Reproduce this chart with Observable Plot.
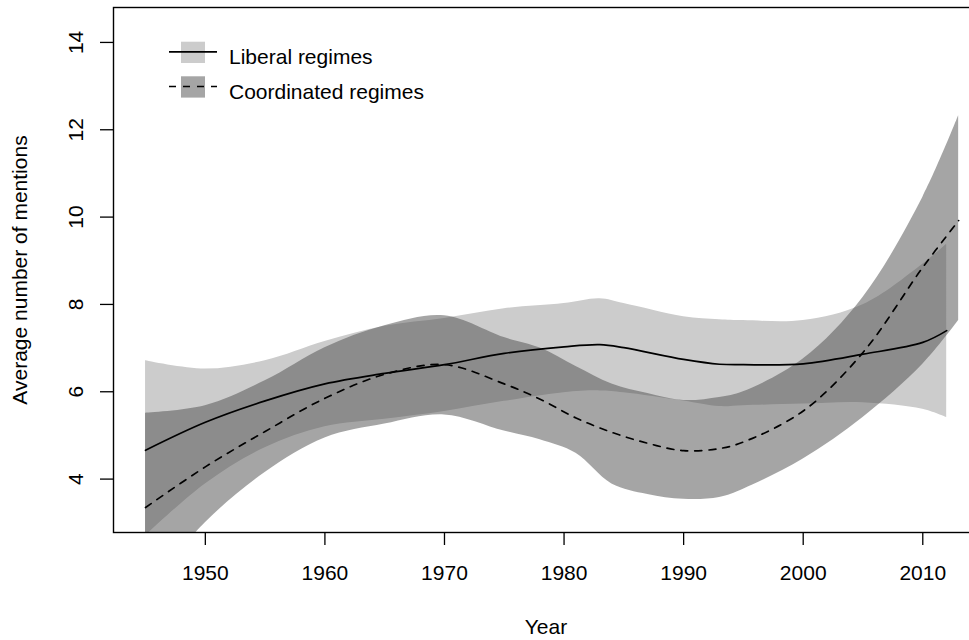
<!DOCTYPE html>
<html><head><meta charset="utf-8">
<script src="https://cdn.jsdelivr.net/npm/d3@7"></script>
<script src="https://cdn.jsdelivr.net/npm/@observablehq/plot@0.6"></script>
<style>
html,body{margin:0;padding:0;overflow:hidden;background:#fff;}
#wrap{position:relative;width:969px;height:640px;overflow:hidden;}
#wrap svg{position:absolute;left:0;top:0;max-width:none !important;}
</style></head><body><div id="wrap"></div>
<script>
// Liberal regimes (smoothed mean with confidence band)
const libYears = [1945, 1950, 1955, 1960, 1965, 1970, 1975, 1980, 1983, 1985, 1990, 1993, 1995, 2000, 2005, 2010, 2012];
const libMean  = [4.66, 5.30, 5.79, 6.18, 6.42, 6.62, 6.88, 7.03, 7.08, 7.01, 6.74, 6.63, 6.62, 6.64, 6.86, 7.13, 7.40];
const libUpper = [6.71, 6.52, 6.71, 7.15, 7.50, 7.68, 7.90, 8.02, 8.13, 8.02, 7.72, 7.65, 7.63, 7.63, 7.99, 8.92, 9.38];
const libLower = [2.70, 3.89, 4.72, 5.20, 5.37, 5.55, 5.78, 5.98, 6.02, 5.98, 5.79, 5.66, 5.68, 5.72, 5.75, 5.60, 5.41];

// Coordinated regimes
const coordYears = [1945, 1950, 1955, 1960, 1965, 1970, 1975, 1978, 1981, 1984, 1987, 1990, 1993, 1995, 2000, 2005, 2010, 2013];
const coordMean  = [3.35, 4.28, 5.09, 5.85, 6.40, 6.62, 6.18, 5.83, 5.40, 5.07, 4.82, 4.65, 4.70, 4.85, 5.56, 6.90, 8.85, 9.92];
const coordUpper = [5.51, 5.68, 6.25, 7.01, 7.51, 7.74, 7.24, 7.00, 6.58, 6.18, 5.96, 5.80, 5.87, 6.00, 6.75, 8.16, 10.45, 12.32];
const coordLower = [1.40, 3.00, 4.15, 4.94, 5.26, 5.47, 5.10, 4.90, 4.59, 3.89, 3.65, 3.54, 3.58, 3.77, 4.46, 5.41, 6.63, 7.63];

const xTicks = [1950, 1960, 1970, 1980, 1990, 2000, 2010];
const yTicks = [4, 6, 8, 10, 12, 14];
const legendLabels = ["Liberal regimes", "Coordinated regimes"];

const lib = libYears.map((year, i) => ({year, mean: libMean[i], upper: libUpper[i], lower: libLower[i]}));
const coord = coordYears.map((year, i) => ({year, mean: coordMean[i], upper: coordUpper[i], lower: coordLower[i]}));

const FONT = "'Liberation Sans', Arial, Helvetica, sans-serif";
const curve = "catmull-rom";

const chart = Plot.plot({
  width: 990, height: 640,
  marginLeft: 113, marginRight: 12, marginTop: 7, marginBottom: 108,
  x: {domain: [1942.32, 2014.66]},
  y: {domain: [2.777, 14.80]},
  style: {fontFamily: FONT, fontSize: "21px", color: "#000", background: "#fff"},
  marks: [
    Plot.areaY(lib, {x: "year", y1: "lower", y2: "upper", fill: "#cccccc", curve, clip: true}),
    Plot.areaY(coord, {x: "year", y1: "lower", y2: "upper", fill: "#4c4c4c", fillOpacity: 0.5, curve, clip: true}),
    Plot.lineY(lib, {x: "year", y: "mean", stroke: "#000", strokeWidth: 1.7, curve, clip: true}),
    Plot.lineY(coord, {x: "year", y: "mean", stroke: "#000", strokeWidth: 1.7, strokeDasharray: "7,7", curve, clip: true}),
    Plot.frame({stroke: "#000", strokeWidth: 1.4}),
    Plot.axisX({ticks: xTicks, tickSize: 13, tickPadding: 20, tickFormat: d => String(d), label: null, fontSize: 21, strokeWidth: 1.3}),
    Plot.axisY({ticks: yTicks, tickSize: 13, tickPadding: 18, tickRotate: -90, tickFormat: d => String(d), label: null, fontSize: 21, strokeWidth: 1.3}),
    Plot.text(["Year"], {text: d => d, frameAnchor: "bottom", lineAnchor: "middle", textAnchor: "middle", dy: 95, fontSize: 21}),
    Plot.text(["Average number of mentions"], {text: d => d, frameAnchor: "left", textAnchor: "middle", lineAnchor: "middle", dx: -93, rotate: -90, fontSize: 21})
  ]
});
chart.style.maxWidth = "none";
document.getElementById("wrap").appendChild(chart);

// Legend overlay (top-left inside the plot)
const leg = d3.select("#wrap").append("svg").attr("width", 969).attr("height", 640)
  .style("pointer-events", "none").attr("font-family", FONT).attr("font-size", 21);
const legendFill = [{fill: "#cccccc", op: 1}, {fill: "#4c4c4c", op: 0.5}];
const legendDash = [null, "7,7"];
legendLabels.forEach((label, i) => {
  const top = 41.7 + i * 34.6;
  leg.append("rect").attr("x", 181).attr("y", top).attr("width", 24).attr("height", 21.3)
    .attr("fill", legendFill[i].fill).attr("fill-opacity", legendFill[i].op);
  leg.append("line").attr("x1", 169).attr("x2", 217).attr("y1", top + 10.2).attr("y2", top + 10.2)
    .attr("stroke", "#000").attr("stroke-width", 1.7).attr("stroke-dasharray", legendDash[i]);
  leg.append("text").attr("x", 229).attr("y", top + 22.3).attr("fill", "#000").text(label);
});
</script></body></html>
